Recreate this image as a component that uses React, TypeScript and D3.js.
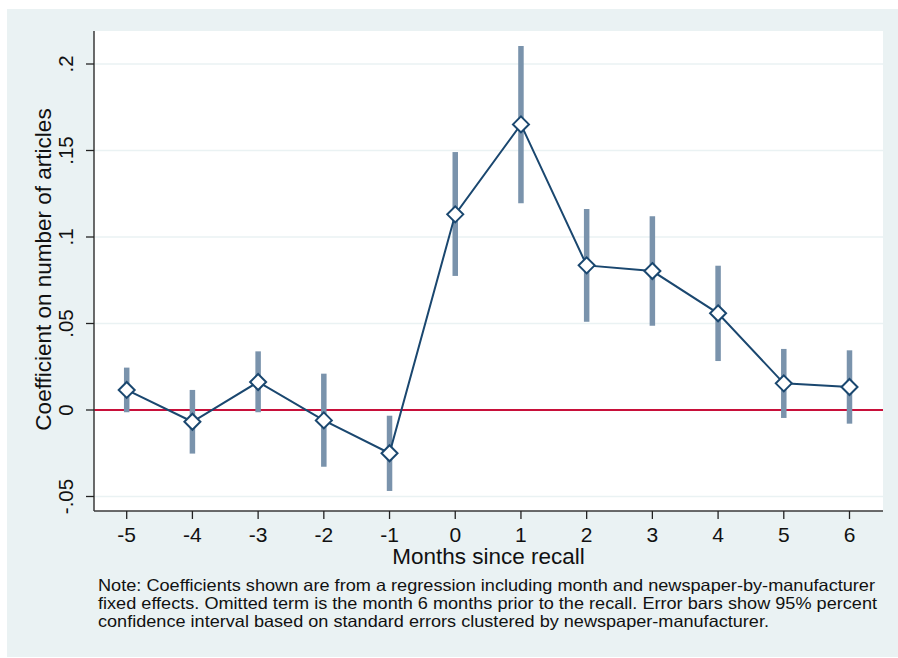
import React from "react";
import * as d3 from "d3";

const months = [-5, -4, -3, -2, -1, 0, 1, 2, 3, 4, 5, 6];
const coef = [0.0116, -0.0068, 0.0162, -0.006, -0.025, 0.1131, 0.1651, 0.0836, 0.0803, 0.0559, 0.0154, 0.0133];
const ciHigh = [0.0245, 0.0116, 0.0339, 0.021, -0.0033, 0.1491, 0.2104, 0.1162, 0.112, 0.0834, 0.0353, 0.0345];
const ciLow = [-0.0013, -0.0252, -0.0013, -0.0328, -0.0468, 0.0775, 0.1195, 0.051, 0.0487, 0.0283, -0.0046, -0.0079];
const yTicks = [-0.05, 0, 0.05, 0.1, 0.15, 0.2];
const yTickLabels = ["-.05", "0", ".05", ".1", ".15", ".2"];
const xTitle = "Months since recall";
const yTitle = "Coefficient on number of articles";
const noteLines = [
  "Note: Coefficients shown are from a regression including month and newspaper-by-manufacturer",
  "fixed effects. Omitted term is the month 6 months prior to the recall. Error bars show 95% percent",
  "confidence interval based on standard errors clustered by newspaper-manufacturer.",
];

export default function App() {
  const W = 898, H = 658;
  const plot = { left: 94, right: 883, top: 31, bottom: 511 };
  const x = d3.scaleLinear().domain([-5, 6]).range([126.7, 849.5]);
  const y = d3.scaleLinear().domain([-0.05, 0.2]).range([496.5, 64]);
  const pts = months.map((m, i) => ({ m, v: coef[i], hi: ciHigh[i], lo: ciLow[i] }));
  const line = d3.line<{ m: number; v: number }>().x((d) => x(d.m)).y((d) => y(d.v));
  const navy = "#1A476F";
  const barCol = "#7A93AC";
  const bg = "#EAF2F3";
  const font = "'Liberation Sans', Arial, Helvetica, sans-serif";
  const dsz = 8;
  const diamond = `M0,${-dsz}L${dsz},0L0,${dsz}L${-dsz},0Z`;
  const noteWidths = [777, 779, 671];
  return (
    <svg width={W} height={H} style={{ position: "absolute", left: 0, top: 0, display: "block" }} fontFamily={font}>
      <rect x={0} y={0} width={W} height={H} fill="#ffffff" />
      <rect x={7} y={9} width={W - 7} height={648} fill={bg} />
      <rect x={plot.left} y={plot.top} width={plot.right - plot.left} height={plot.bottom - plot.top} fill="#ffffff" />
      {yTicks.map((t) => (
        <line key={"g" + t} x1={plot.left} x2={plot.right} y1={y(t)} y2={y(t)} stroke={bg} strokeWidth={1.6} />
      ))}
      <line x1={plot.left} x2={plot.right} y1={y(0)} y2={y(0)} stroke="#C8103A" strokeWidth={1.8} />
      {pts.map((p) => (
        <line key={"b" + p.m} x1={x(p.m)} x2={x(p.m)} y1={y(p.hi)} y2={y(p.lo)} stroke={barCol} strokeWidth={5.5} />
      ))}
      <path d={line(pts) || ""} fill="none" stroke={navy} strokeWidth={2} />
      {pts.map((p) => (
        <path key={"m" + p.m} d={diamond} transform={`translate(${x(p.m)},${y(p.v)})`} fill="#ffffff" stroke={navy} strokeWidth={2} />
      ))}
      <line x1={plot.left} x2={plot.left} y1={plot.top} y2={plot.bottom} stroke="#3a3a3a" strokeWidth={1.5} />
      <line x1={plot.left} x2={plot.right} y1={plot.bottom} y2={plot.bottom} stroke="#3a3a3a" strokeWidth={1.5} />
      {yTicks.map((t, i) => (
        <g key={"yt" + t}>
          <line x1={plot.left - 8} x2={plot.left} y1={y(t)} y2={y(t)} stroke="#222" strokeWidth={1.3} />
          <text transform={`translate(${72.5},${y(t)}) rotate(-90)`} textAnchor="middle" fontSize={20.5} fill="#111">
            {yTickLabels[i]}
          </text>
        </g>
      ))}
      {months.map((m) => (
        <g key={"xt" + m}>
          <line x1={x(m)} x2={x(m)} y1={plot.bottom} y2={plot.bottom + 8} stroke="#222" strokeWidth={1.3} />
          <text x={x(m)} y={541.5} textAnchor="middle" fontSize={21} fill="#111">
            {String(m)}
          </text>
        </g>
      ))}
      <text x={488.5} y={564} textAnchor="middle" fontSize={22.5} fill="#111">
        {xTitle}
      </text>
      <text transform={`translate(${50.5},${269.5}) rotate(-90)`} textAnchor="middle" fontSize={22.5} fill="#111">
        {yTitle}
      </text>
      {noteLines.map((l, i) => (
        <text key={"n" + i} x={98} y={591 + i * 18} fontSize={16.5} fill="#111" textLength={noteWidths[i]} lengthAdjust="spacingAndGlyphs">
          {l}
        </text>
      ))}
    </svg>
  );
}
